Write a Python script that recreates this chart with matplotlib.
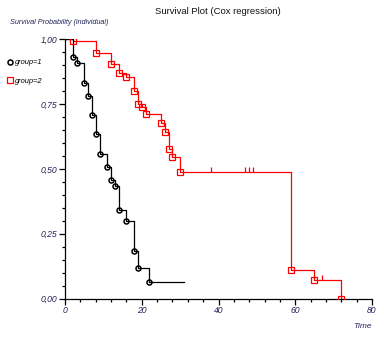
import numpy as np
import matplotlib
matplotlib.use("Agg")
import matplotlib.pyplot as plt
from matplotlib.ticker import MultipleLocator, FuncFormatter

plt.rcParams["font.family"] = ["Liberation Sans", "DejaVu Sans"]

# group 1 (black): event times and survival after each event
g1_time = [2, 3, 5, 6, 7, 8, 9, 11, 12, 13, 14, 16, 18, 19, 22]
g1_surv = [0.932, 0.907, 0.833, 0.781, 0.708, 0.633, 0.558, 0.507, 0.457,
           0.434, 0.341, 0.300, 0.183, 0.117, 0.063]
g1_end = 31

# group 2 (red)
g2_time = [2, 8, 12, 14, 16, 18, 19, 20, 21, 25, 26, 27, 28, 30, 59, 65, 72]
g2_surv = [0.995, 0.946, 0.905, 0.871, 0.854, 0.800, 0.750, 0.737, 0.710,
           0.677, 0.643, 0.578, 0.544, 0.489, 0.109, 0.071, 0.0]
g2_censor = [38, 47, 48, 49, 67]
g2_end = 72

label_col = "#23235a"

fig = plt.figure(figsize=(3.84, 3.37), dpi=100)
ax = fig.add_axes([65 / 384, 1 - 298.5 / 337, 307 / 384, 259.2 / 337])


def step_xy(times, surv, end):
    x = [0] + list(times) + [end]
    y = [1.0] + list(surv) + [surv[-1]]
    return x, y


x1, y1 = step_xy(g1_time, g1_surv, g1_end)
x2, y2 = step_xy(g2_time, g2_surv, g2_end)
ax.step(x2, y2, where="post", color="red", lw=0.9, zorder=2)
ax.step(x1, y1, where="post", color="black", lw=0.9, zorder=3)

h1, = ax.plot(g1_time, g1_surv, ls="none", marker="o", ms=3.6, mfc="none",
              mec="black", mew=1.1, zorder=4)
h2, = ax.plot(g2_time, g2_surv, ls="none", marker="s", ms=4.8, mfc="none",
              mec="red", mew=0.9, zorder=4)

# censored observations (small ticks on the red curve)
cens_surv = [y2[np.searchsorted(x2, t, side="right") - 1] for t in g2_censor]
ax.plot(g2_censor, cens_surv, ls="none", marker=2, ms=3.5, mec="red",
        mew=0.9, zorder=4)

ax.set_xlim(0, 80)
ax.set_ylim(0, 1)
ax.spines["top"].set_visible(False)
ax.spines["right"].set_visible(False)
for s in ("left", "bottom"):
    ax.spines[s].set_linewidth(0.9)
ax.xaxis.set_major_locator(MultipleLocator(20))
ax.xaxis.set_minor_locator(MultipleLocator(4))
ax.yaxis.set_major_locator(MultipleLocator(0.25))
ax.yaxis.set_minor_locator(MultipleLocator(0.05))
ax.yaxis.set_major_formatter(FuncFormatter(lambda v, p: f"{v:.2f}".replace(".", ",")))
ax.tick_params(which="major", length=4, width=0.9, labelsize=6.2,
               labelcolor=label_col, pad=1.5)
ax.tick_params(which="minor", length=2.5, width=0.9)
for lab in ax.get_xticklabels() + ax.get_yticklabels():
    lab.set_fontstyle("italic")

fig.text(218 / 384, 1 - 11 / 337, "Survival Plot (Cox regression)",
         ha="center", va="center", fontsize=6.8, color="#111111")
fig.text(10 / 384, 1 - 23 / 337, "Survival Probability (individual)",
         ha="left", va="center", fontsize=5.2, style="italic", color=label_col)
fig.text(372 / 384, 1 - 327 / 337, "Time", ha="right", va="center",
         fontsize=6.0, style="italic", color=label_col)

fig.legend([h1, h2], ["group=1", "group=2"], loc="upper left",
           bbox_to_anchor=(2 / 384, 1 - 54 / 337), frameon=False,
           prop={"size": 5.4, "style": "italic"}, handlelength=0.6,
           handletextpad=0.4, labelspacing=1.45, borderpad=0.2)

fig.savefig("out.png", dpi=100)
